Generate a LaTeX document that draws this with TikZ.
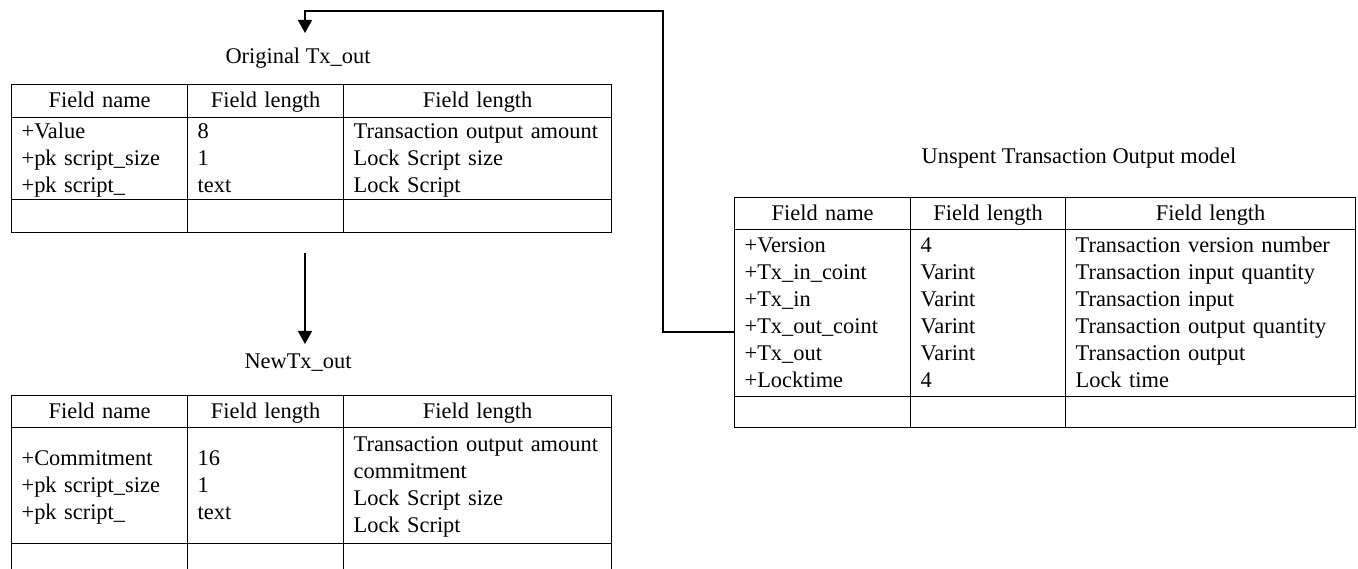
\documentclass[tikz,border=0pt]{standalone}
\usepackage{fontspec}
\setmainfont{Liberation Serif}
\usetikzlibrary{arrows.meta}
\newcommand\cellstrut{\rule[-6pt]{0pt}{25pt}}
\begin{document}
\begin{tikzpicture}[x=1pt,y=-1pt,
  txt/.style={font=\fontsize{22.4}{27}\selectfont},
  tcell/.style={txt, draw, line width=1.3pt, inner xsep=10pt, inner ysep=0pt, anchor=north west,
    execute at begin node=\cellstrut, execute at end node=\cellstrut},
  lcell/.style={tcell, align=left},
  hcell/.style={tcell, align=center},
  lbl/.style={txt, inner sep=0pt},
  conn/.style={line width=1.6pt},
  arr/.style={conn, -{Triangle[width=14pt,length=13pt]}}]
\useasboundingbox (0,0) rectangle (1358,569);
\clip (0,0) rectangle (1358,569);

% ---------- Table 1: Original Tx_out ----------
\node[lbl] (lorig) at (298,58) {Original Tx\_out};
\node[hcell, text width=156pt, minimum height=33pt] (t1h1) at (11,84) {Field name};
\node[hcell, text width=136pt, minimum height=33pt] (t1h2) at (187,84) {Field length};
\node[hcell, text width=248pt, minimum height=33pt] (t1h3) at (343,84) {Field length};
\node[lcell, text width=156pt, minimum height=82pt] (t1d1) at (11,117) {+Value\\+pk script\_size\\+pk script\_};
\node[lcell, text width=136pt, minimum height=82pt] (t1d2) at (187,117) {8\\1\\text};
\node[lcell, text width=248pt, minimum height=82pt] (t1d3) at (343,117) {Transaction output amount\\Lock Script size\\Lock Script};
\node[tcell, minimum width=176pt, minimum height=33pt] (t1e1) at (11,199) {};
\node[tcell, minimum width=156pt, minimum height=33pt] (t1e2) at (187,199) {};
\node[tcell, minimum width=268pt, minimum height=33pt] (t1e3) at (343,199) {};

% ---------- Table 2: NewTx_out ----------
\node[lbl] (lnew) at (298,363) {NewTx\_out};
\node[hcell, text width=156pt, minimum height=32pt] (t2h1) at (11,395) {Field name};
\node[hcell, text width=136pt, minimum height=32pt] (t2h2) at (187,395) {Field length};
\node[hcell, text width=248pt, minimum height=32pt] (t2h3) at (343,395) {Field length};
\node[lcell, text width=156pt, minimum height=116pt] (t2d1) at (11,427) {+Commitment\\+pk script\_size\\+pk script\_};
\node[lcell, text width=136pt, minimum height=116pt] (t2d2) at (187,427) {16\\1\\text};
\node[lcell, text width=248pt, minimum height=116pt] (t2d3) at (343,427) {Transaction output amount\\commitment\\Lock Script size\\Lock Script};
\node[tcell, minimum width=176pt, minimum height=40pt] (t2e1) at (11,543) {};
\node[tcell, minimum width=156pt, minimum height=40pt] (t2e2) at (187,543) {};
\node[tcell, minimum width=268pt, minimum height=40pt] (t2e3) at (343,543) {};

% ---------- Table 3: UTXO model ----------
\node[lbl] (lutxo) at (1079,158) {Unspent Transaction Output model};
\node[hcell, text width=156pt, minimum height=32pt] (t3h1) at (734,197) {Field name};
\node[hcell, text width=135pt, minimum height=32pt] (t3h2) at (910,197) {Field length};
\node[hcell, text width=270pt, minimum height=32pt] (t3h3) at (1065,197) {Field length};
\node[lcell, text width=156pt, minimum height=167pt] (t3d1) at (734,229) {+Version\\+Tx\_in\_coint\\+Tx\_in\\+Tx\_out\_coint\\+Tx\_out\\+Locktime};
\node[lcell, text width=135pt, minimum height=167pt] (t3d2) at (910,229) {4\\Varint\\Varint\\Varint\\Varint\\4};
\node[lcell, text width=270pt, minimum height=167pt] (t3d3) at (1065,229) {Transaction version number\\Transaction input quantity\\Transaction input\\Transaction output quantity\\Transaction output\\Lock time};
\node[tcell, minimum width=176pt, minimum height=31pt] (t3e1) at (734,396) {};
\node[tcell, minimum width=155pt, minimum height=31pt] (t3e2) at (910,396) {};
\node[tcell, minimum width=290pt, minimum height=31pt] (t3e3) at (1065,396) {};

% ---------- Connectors ----------
\coordinate (p0) at (734,332);
\coordinate (k1) at (663,332);
\coordinate (k2) at (663,11);
\coordinate (k3) at (305,11);
\coordinate (tip1) at (305,33);
\draw[arr] (t3d1.west |- p0) -- (k1) -- (k2) -- (k3) -- (tip1);

\coordinate (s2) at (305,253);
\coordinate (tip2) at (305,344);
\draw[arr] (s2) -- (tip2);
\end{tikzpicture}
\end{document}
